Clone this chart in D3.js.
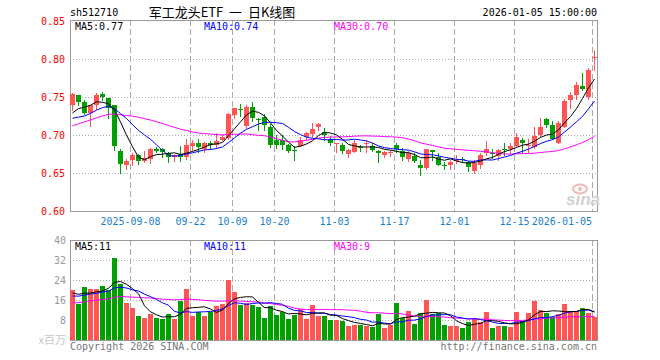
<!DOCTYPE html>
<html><head><meta charset="utf-8">
<script src="https://cdn.jsdelivr.net/npm/d3@7/dist/d3.min.js"></script>
<style>body{margin:0;background:#fff}svg{display:block}</style>
</head><body><svg id="c" width="660" height="360"></svg>
<script>
const dates = [
"2025-08-25","2025-08-26","2025-08-27","2025-08-28","2025-08-29",
"2025-09-01","2025-09-02","2025-09-03","2025-09-04","2025-09-05",
"2025-09-08","2025-09-09","2025-09-10","2025-09-11","2025-09-12",
"2025-09-15","2025-09-16","2025-09-17","2025-09-18","2025-09-19",
"2025-09-22","2025-09-23","2025-09-24","2025-09-25","2025-09-26",
"2025-09-29","2025-09-30","2025-10-09","2025-10-10",
"2025-10-13","2025-10-14","2025-10-15","2025-10-16","2025-10-17",
"2025-10-20","2025-10-21","2025-10-22","2025-10-23","2025-10-24",
"2025-10-27","2025-10-28","2025-10-29","2025-10-30","2025-10-31",
"2025-11-03","2025-11-04","2025-11-05","2025-11-06","2025-11-07",
"2025-11-10","2025-11-11","2025-11-12","2025-11-13","2025-11-14",
"2025-11-17","2025-11-18","2025-11-19","2025-11-20","2025-11-21",
"2025-11-24","2025-11-25","2025-11-26","2025-11-27","2025-11-28",
"2025-12-01","2025-12-02","2025-12-03","2025-12-04","2025-12-05",
"2025-12-08","2025-12-09","2025-12-10","2025-12-11","2025-12-12",
"2025-12-15","2025-12-16","2025-12-17","2025-12-18","2025-12-19",
"2025-12-22","2025-12-23","2025-12-24","2025-12-25","2025-12-26",
"2025-12-29","2025-12-30","2025-12-31","2026-01-05"];

const open = [0.739,0.752,0.743,0.729,0.740,0.754,0.749,0.739,0.679,0.661,
0.667,0.674,0.666,0.668,0.681,0.681,0.676,0.671,0.675,0.671,
0.686,0.690,0.682,0.690,0.687,0.693,0.696,0.726,0.734,0.712,
0.737,0.721,0.724,0.710,0.694,0.693,0.687,0.680,0.686,0.697,
0.701,0.710,0.704,0.695,0.688,0.687,0.675,0.678,0.684,0.688,
0.686,0.679,0.674,0.676,0.687,0.679,0.669,0.673,0.660,0.657,
0.680,0.671,0.661,0.660,0.666,0.668,0.665,0.653,0.660,0.676,
0.676,0.673,0.682,0.681,0.686,0.694,0.685,0.684,0.700,0.721,
0.713,0.690,0.710,0.746,0.752,0.764,0.750,0.802];
const high = [0.755,0.753,0.746,0.740,0.755,0.756,0.749,0.740,0.682,0.669,
0.676,0.675,0.679,0.683,0.684,0.683,0.677,0.675,0.686,0.695,
0.693,0.695,0.691,0.692,0.703,0.701,0.729,0.736,0.741,0.739,
0.744,0.722,0.727,0.715,0.700,0.700,0.688,0.685,0.697,0.704,
0.716,0.716,0.709,0.699,0.690,0.690,0.682,0.693,0.687,0.693,
0.689,0.680,0.679,0.680,0.690,0.683,0.679,0.676,0.667,0.681,
0.680,0.676,0.664,0.667,0.674,0.671,0.666,0.667,0.676,0.692,
0.682,0.682,0.690,0.689,0.702,0.696,0.695,0.711,0.722,0.723,
0.718,0.718,0.748,0.757,0.770,0.782,0.788,0.812];
const low = [0.733,0.740,0.727,0.712,0.734,0.746,0.723,0.680,0.650,0.655,
0.661,0.662,0.664,0.663,0.678,0.671,0.664,0.666,0.666,0.668,
0.680,0.678,0.677,0.682,0.683,0.693,0.695,0.722,0.725,0.709,
0.718,0.707,0.707,0.684,0.683,0.682,0.677,0.667,0.685,0.694,
0.698,0.706,0.693,0.687,0.678,0.676,0.671,0.677,0.679,0.678,
0.679,0.665,0.671,0.672,0.678,0.667,0.666,0.664,0.648,0.655,
0.667,0.660,0.655,0.655,0.663,0.664,0.652,0.650,0.656,0.674,
0.670,0.667,0.674,0.676,0.685,0.676,0.678,0.683,0.699,0.711,
0.695,0.689,0.710,0.735,0.748,0.759,0.748,0.786];
const close = [0.754,0.744,0.729,0.739,0.753,0.750,0.735,0.686,0.662,0.666,
0.674,0.666,0.670,0.682,0.679,0.677,0.671,0.674,0.671,0.687,
0.689,0.684,0.690,0.687,0.692,0.698,0.728,0.736,0.733,0.737,
0.723,0.720,0.713,0.687,0.687,0.687,0.679,0.679,0.694,0.702,
0.708,0.714,0.700,0.689,0.690,0.679,0.680,0.690,0.683,0.689,
0.680,0.676,0.678,0.677,0.682,0.671,0.676,0.666,0.656,0.681,
0.677,0.661,0.659,0.665,0.667,0.6665,0.658,0.663,0.674,0.682,
0.675,0.680,0.680,0.686,0.697,0.690,0.687,0.699,0.711,0.713,
0.695,0.716,0.745,0.752,0.766,0.761,0.786,0.803];
const volume = [20,14.4,21.2,20.4,20.4,21.6,19.9,32.8,22.4,14.8,
12.8,9.6,8.8,10.4,8.8,8.4,10.4,8.4,15.7,20.4,
9.6,11.2,9.6,11.2,13.6,14.4,24,19.2,14,14.9,
14,13.2,8.8,13.6,10,11.2,8.4,10,12.4,8.4,
14,9.6,9.6,8,8,7.6,5.6,6,6,5.6,
5.2,10.4,4.8,6,14.8,8.8,11.6,6.4,10.8,16,
10.4,10.8,6,5.6,5.6,4.8,7.2,8.4,7.2,11.2,
4.8,5.6,5.6,5.2,11.2,7.6,10.8,15.6,12,10.8,
9.2,10.4,14.4,11.6,11.6,12.8,10.8,9.2];
// sessions before the visible window (estimated, only used to seed the moving averages)
const prevCloses = [0.655,0.660,0.662,0.668,0.672,0.675,0.680,0.688,0.692,0.700,0.710,
0.725,0.735,0.745,0.752,0.748,0.744,0.745,0.740,0.742,
0.728,0.715,0.705,0.710,0.717,
0.715,0.720,0.726,0.730];
const prevVolumes = [10,11,9,12,14,13,12,15,18,16,14,13,12,15,17,14,13,12,14,14,
15,17,16,18,16,
17,19,20,18];

const tickDates = ["2025-09-08","2025-09-22","2025-10-09","2025-10-20","2025-11-03","2025-11-17","2025-12-01","2025-12-15","2026-01-05"];
const tickLabels = ["2025-09-08","09-22","10-09","10-20","11-03","11-17","12-01","12-15","2026-01-05"];
const priceTicks = [0.85,0.80,0.75,0.70,0.65,0.60];
const volTicks = [40,32,24,16,8];

const RED = "#ff5555", GREEN = "#00a000";
const MONO = "'DejaVu Sans Mono', monospace";
const svg = d3.select("#c");

const L = 70, R = 597;
const xs = d3.scaleBand().domain(dates).range([L, R]).paddingInner(1/6).paddingOuter(0);
const ys = d3.scaleLinear().domain([0.60, 0.85]).range([211, 21]);
const yv = d3.scaleLinear().domain([0, 40]).range([340, 240]);

function ma(prev, vals, n) {
  const all = prev.concat(vals);
  return vals.map((v, i) => d3.mean(all.slice(prev.length + i - n + 1, prev.length + i + 1)));
}
const pMA = {5: ma(prevCloses, close, 5), 10: ma(prevCloses, close, 10), 30: ma(prevCloses, close, 30)};
const vMA = {5: ma(prevVolumes, volume, 5), 10: ma(prevVolumes, volume, 10), 30: ma(prevVolumes, volume, 30)};
const maColor = {5: "#000000", 10: "#0000ff", 30: "#ff00ff"};

// grids
const g = svg.append("g");
function hgrid(y) {
  g.append("line").attr("x1", L).attr("x2", R).attr("y1", Math.round(y) + 0.5).attr("y2", Math.round(y) + 0.5)
    .attr("stroke", "#aaa").attr("stroke-dasharray", "1,2");
}
priceTicks.slice(1, -1).forEach(t => hgrid(ys(t)));
volTicks.slice(1).forEach(t => hgrid(yv(t)));
tickDates.forEach(d => {
  const x = xs(d) + 0.5;
  [[20, 211], [240, 340]].forEach(([a, b]) => {
    g.append("line").attr("x1", x).attr("x2", x).attr("y1", a).attr("y2", b)
      .attr("stroke", "#aaa").attr("stroke-dasharray", "6,3");
  });
});

// frames
svg.append("rect").attr("x", L + 0.5).attr("y", 20.5).attr("width", R - L).attr("height", 191)
  .attr("fill", "none").attr("stroke", "#999");
svg.append("rect").attr("x", L + 0.5).attr("y", 240.5).attr("width", R - L).attr("height", 100)
  .attr("fill", "none").attr("stroke", "#999");

// candles
const idx = d3.range(dates.length);
const cg = svg.append("g");
idx.forEach(i => {
  const up = close[i] >= open[i];
  const col = up ? RED : GREEN;
  const x = xs(dates[i]);
  cg.append("line").attr("x1", x + 2.5).attr("x2", x + 2.5)
    .attr("y1", Math.round(ys(high[i]))).attr("y2", Math.round(ys(low[i])) + 1)
    .attr("stroke", col).attr("stroke-width", 1);
  const top = Math.round(ys(Math.max(open[i], close[i])));
  const bot = Math.round(ys(Math.min(open[i], close[i])));
  cg.append("rect").attr("x", x).attr("y", top).attr("width", xs.bandwidth())
    .attr("height", Math.max(1, bot - top)).attr("fill", col).attr("shape-rendering", "crispEdges");
});

// volume bars
idx.forEach(i => {
  const up = close[i] >= open[i];
  const x = xs(dates[i]);
  svg.append("rect").attr("x", x).attr("y", Math.round(yv(volume[i])))
    .attr("width", xs.bandwidth()).attr("height", 340 - Math.round(yv(volume[i])))
    .attr("fill", up ? RED : GREEN).attr("shape-rendering", "crispEdges");
});

// MA lines
function maLine(vals, yScale, color) {
  const line = d3.line().x((d, i) => xs(dates[i]) + 2.5).y(d => yScale(d));
  svg.append("path").attr("d", line(vals)).attr("fill", "none").attr("stroke", color).attr("stroke-width", 1);
}
[30, 10, 5].forEach(n => { maLine(pMA[n], ys, maColor[n]); maLine(vMA[n], yv, maColor[n]); });

// axis labels
const T = svg.append("g").attr("font-family", MONO).attr("font-size", 10);
priceTicks.forEach(t => {
  T.append("text").attr("x", 65).attr("y", ys(t)).attr("dy", "0.35em").attr("text-anchor", "end")
    .attr("fill", "#ff0000").text(t.toFixed(2));
});
volTicks.forEach(t => {
  T.append("text").attr("x", 66).attr("y", yv(t)).attr("dy", "0.35em").attr("text-anchor", "end")
    .attr("fill", "#999").text(t);
});
tickDates.forEach((d, k) => {
  const x = xs(d) + 0.5;
  const last = k === tickDates.length - 1;
  T.append("text").attr("x", last ? R - 5 : x).attr("y", 225).attr("text-anchor", last ? "end" : "middle")
    .attr("fill", "#1a7fd0").text(tickLabels[k]);
});

// header
T.append("text").attr("x", 70).attr("y", 16).attr("fill", "#000").text("sh512710");
T.append("text").attr("x", R).attr("y", 16).attr("text-anchor", "end").attr("fill", "#000").text("2026-01-05 15:00:00");
svg.append("text").attr("x", 222).attr("y", 17).attr("text-anchor", "middle")
  .attr("font-family", "'Noto Sans CJK SC', sans-serif").attr("font-size", 13).attr("fill", "#000")
  .attr("xml:space", "preserve").style("white-space", "pre")
  .text("军工龙头ETF  一  日K线图");

// legends
const last = close.length - 1;
[[5, 75], [10, 204], [30, 334]].forEach(([n, x]) => {
  T.append("text").attr("x", x).attr("y", 30).attr("fill", maColor[n]).text("MA" + n + ":" + pMA[n][last].toFixed(2));
  T.append("text").attr("x", x).attr("y", 250).attr("fill", maColor[n]).text("MA" + n + ":" + Math.round(vMA[n][last]));
});

// footer
svg.append("text").attr("x", 66).attr("y", 344).attr("text-anchor", "end")
  .attr("font-family", "'Noto Sans CJK SC', sans-serif").attr("font-size", 11).attr("fill", "#c8c8c8").text("x百万");
T.append("text").attr("x", 70).attr("y", 350).attr("fill", "#777").text("Copyright 2026 SINA.COM");
T.append("text").attr("x", R).attr("y", 350).attr("text-anchor", "end").attr("fill", "#777").text("http://finance.sina.com.cn");

// sina watermark
svg.append("ellipse").attr("cx", 580).attr("cy", 189).attr("rx", 7).attr("ry", 4.5).attr("fill", "none")
  .attr("stroke", "#f2b8b8").attr("stroke-width", 2);
svg.append("circle").attr("cx", 580).attr("cy", 189).attr("r", 2).attr("fill", "#f2b8b8");
svg.append("text").attr("x", 566).attr("y", 205).attr("font-family", "Arial, 'Liberation Sans', sans-serif")
  .attr("font-size", 17).attr("font-weight", "bold").attr("font-style", "italic").attr("fill", "#d0d0d0").text("sina");
</script></body></html>
